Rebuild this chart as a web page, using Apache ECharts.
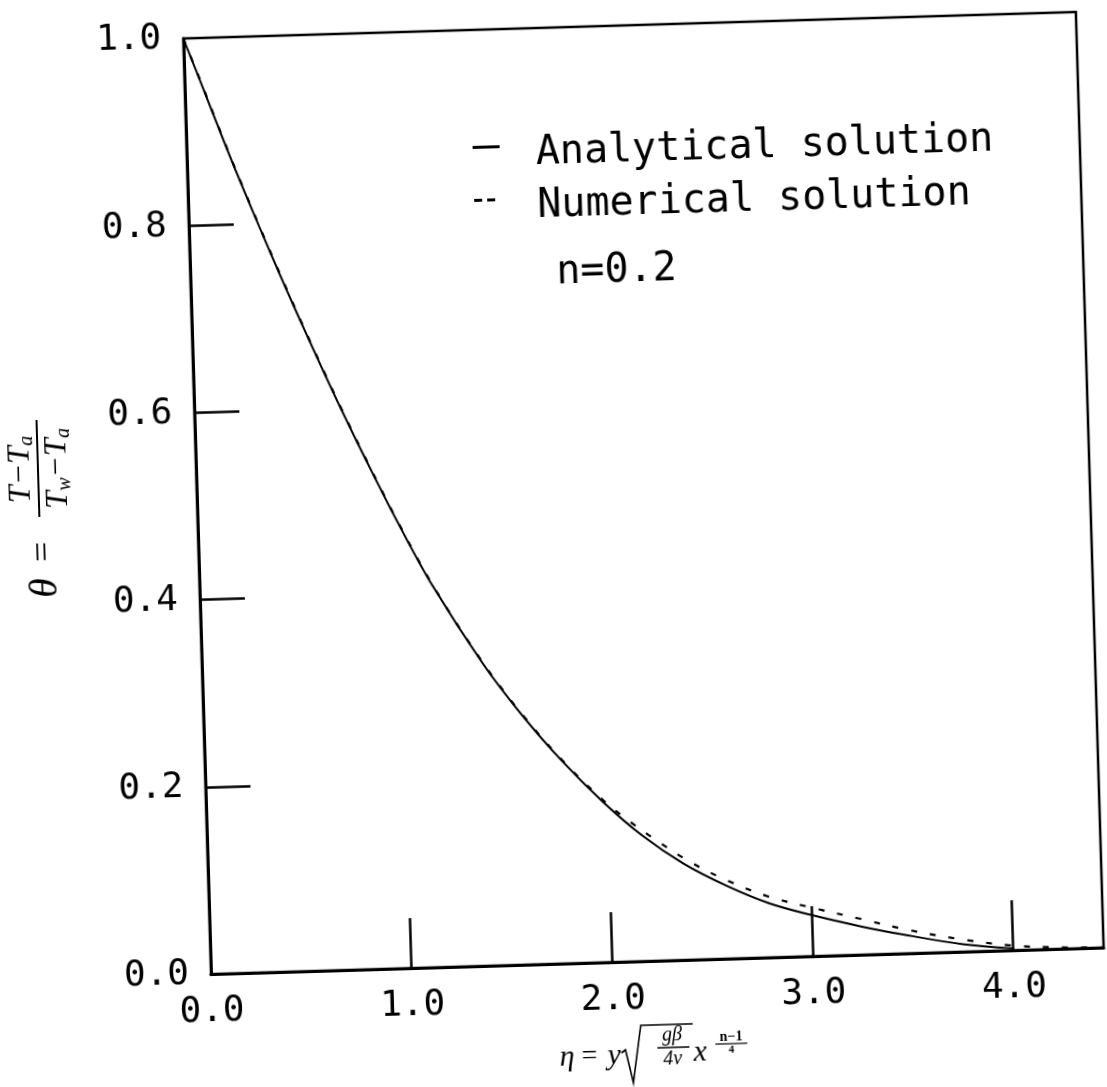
<!DOCTYPE html>
<html><head><meta charset="utf-8">
<script src="https://cdn.jsdelivr.net/npm/echarts@6/dist/echarts.min.js"></script>
<style>
html,body{margin:0;padding:0;background:#fff;overflow:hidden;}
#chart{width:1107px;height:1087px;transform-origin:645px 495px;transform:rotate(-1.7deg);}
</style></head><body><div id="chart"></div>
<script>
// Values
const etaAnalytical   = [0, 0.08, 0.14, 0.23, 0.35, 0.48, 0.60, 0.73, 0.85, 1.00, 1.16, 1.40, 1.59, 1.79, 1.98, 2.17, 2.37, 2.59, 2.79, 3.00, 3.25, 3.46, 3.75, 4.00];
const thetaAnalytical = [1.000, 0.953, 0.917, 0.864, 0.797, 0.727, 0.665, 0.600, 0.543, 0.475, 0.408, 0.323, 0.266, 0.214, 0.171, 0.134, 0.103, 0.077, 0.058, 0.044, 0.030, 0.020, 0.008, 0.002];
const etaNumerical    = [0, 0.08, 0.14, 0.23, 0.35, 0.48, 0.60, 0.73, 0.85, 1.00, 1.16, 1.40, 1.59, 1.79, 1.98, 2.10, 2.25, 2.40, 2.59, 2.79, 3.00, 3.25, 3.46, 3.75, 4.00, 4.20, 4.45];
const thetaNumerical  = [1.000, 0.954, 0.918, 0.865, 0.798, 0.728, 0.666, 0.601, 0.544, 0.476, 0.409, 0.324, 0.267, 0.215, 0.173, 0.151, 0.127, 0.105, 0.083, 0.065, 0.052, 0.038, 0.026, 0.013, 0.005, 0.002, 0.000];
const xLabelValues = [0, 1, 2, 3, 4];
const xTickValues  = [1, 2, 3, 4];
const yTickValues  = [0.2, 0.4, 0.6, 0.8];
const seriesNames  = ['Analytical solution', 'Numerical solution'];
const noteText = 'n=0.2';

const zip = (a, b) => a.map((v, i) => [v, b[i]]);
const MONO = '"DejaVu Sans Mono", "Liberation Mono", monospace';
const SERIF = '"Liberation Serif", "DejaVu Serif", serif';

const chart = echarts.init(document.getElementById('chart'), null, {renderer: 'canvas'});
chart.setOption({
  animation: false,
  backgroundColor: '#fff',
  grid: {left: 197, top: 25, width: 893, height: 936, show: true, borderColor: '#000', borderWidth: 2.5, backgroundColor: 'transparent'},
  xAxis: {
    type: 'value', min: 0, max: 4.45, interval: 1,
    axisLine: {onZero: false, lineStyle: {color: '#000', width: 3}},
    axisTick: {inside: true, length: 50, customValues: xTickValues, lineStyle: {color: '#000', width: 2.5}},
    axisLabel: {customValues: xLabelValues, formatter: v => v.toFixed(1), fontFamily: MONO, fontSize: 36, color: '#000', margin: 20},
    splitLine: {show: false}
  },
  yAxis: {
    type: 'value', min: 0, max: 1, interval: 0.2,
    axisLine: {show: true, onZero: false, lineStyle: {color: '#000', width: 3}},
    axisTick: {show: true, inside: true, length: 45, customValues: yTickValues, lineStyle: {color: '#000', width: 2.5}},
    axisLabel: {formatter: v => v.toFixed(1), fontFamily: MONO, fontSize: 36, color: '#000', margin: 22},
    splitLine: {show: false}
  },
  legend: {
    orient: 'vertical', left: 478, top: 126, itemWidth: 27, itemHeight: 20, itemGap: 13,
    selectedMode: false,
    data: [
      {name: seriesNames[0], icon: 'path://M0,0h27v3h-27z M0,19.99h27v0.01h-27z'},
      {name: seriesNames[1], icon: 'path://M0,0h8v3h-8z M13,0h8v3h-8z M0,19.99h27v0.01h-27z'}
    ],
    textStyle: {fontFamily: MONO, fontSize: 40, lineHeight: 40, color: '#000', padding: [0, 0, 0, 31]}
  },
  series: [
    {name: seriesNames[1], type: 'line', data: zip(etaNumerical, thetaNumerical), showSymbol: false, symbol: 'none',
     smooth: 0.35,
     itemStyle: {color: '#000'}, lineStyle: {color: '#000', width: 2.2, type: [6, 13]}, z: 2},
    {name: seriesNames[0], type: 'line', data: zip(etaAnalytical, thetaAnalytical), showSymbol: false, symbol: 'none',
     smooth: 0.35,
     itemStyle: {color: '#000'}, lineStyle: {color: '#000', width: 2}, z: 3}
  ],
  graphic: [
    {type: 'text', x: 563, y: 271, style: {text: noteText, fontFamily: MONO, fontSize: 40, fill: '#000', align: 'left', verticalAlign: 'middle'}},
    {type: 'group', x: 39, y: 582, rotation: Math.PI / 2, children: [
      {type: 'text', x: 2, y: 4, style: {text: 'θ', font: 'italic 40px ' + SERIF, fill: '#000', align: 'left', verticalAlign: 'middle'}},
      {type: 'text', x: 38, y: 4, style: {text: '=', font: '36px ' + SERIF, fill: '#000', align: 'left', verticalAlign: 'middle'}},
      {type: 'line', shape: {x1: 83, y1: 0, x2: 180, y2: 0}, style: {stroke: '#000', lineWidth: 2}},
      {type: 'text', x: 131, y: -17, style: {text: '{i|T−T}{s|a}', align: 'center', verticalAlign: 'middle', fill: '#000',
        rich: {i: {font: 'italic 32px ' + SERIF, lineHeight: 34}, s: {font: 'italic 20px ' + SERIF, verticalAlign: 'bottom', lineHeight: 34}}}},
      {type: 'text', x: 131, y: 20, style: {text: '{i|T}{s|w}{i|−T}{s|a}', align: 'center', verticalAlign: 'middle', fill: '#000',
        rich: {i: {font: 'italic 32px ' + SERIF, lineHeight: 34}, s: {font: 'italic 20px ' + SERIF, verticalAlign: 'bottom', lineHeight: 34}}}}
    ]},
    {type: 'group', x: 543, y: 1055, children: [
      {type: 'text', x: 0, y: 0, style: {text: 'η', font: 'italic 30px ' + SERIF, fill: '#000', align: 'left', verticalAlign: 'middle'}},
      {type: 'text', x: 22, y: 0, style: {text: '=', font: '28px ' + SERIF, fill: '#000', align: 'left', verticalAlign: 'middle'}},
      {type: 'text', x: 48, y: 0, style: {text: 'y', font: 'italic 30px ' + SERIF, fill: '#000', align: 'left', verticalAlign: 'middle'}},
      {type: 'polyline', shape: {points: [[62, -3], [66, -6], [73, 27], [82, -30], [134, -30]]}, style: {stroke: '#000', lineWidth: 1.6, fill: null}},
      {type: 'text', x: 113, y: -19, style: {text: 'gβ', font: 'italic 20px ' + SERIF, fill: '#000', align: 'center', verticalAlign: 'middle'}},
      {type: 'line', shape: {x1: 98, y1: -7, x2: 130, y2: -7}, style: {stroke: '#000', lineWidth: 1.5}},
      {type: 'text', x: 113, y: 5, style: {text: '4ν', font: 'italic 20px ' + SERIF, fill: '#000', align: 'center', verticalAlign: 'middle'}},
      {type: 'text', x: 134, y: -1, style: {text: 'x', font: 'italic 30px ' + SERIF, fill: '#000', align: 'left', verticalAlign: 'middle'}},
      {type: 'text', x: 172, y: -16, style: {text: 'n−1', font: 'bold 14px ' + SERIF, fill: '#000', align: 'center', verticalAlign: 'middle'}},
      {type: 'line', shape: {x1: 156, y1: -9, x2: 188, y2: -9}, style: {stroke: '#000', lineWidth: 1.2}},
      {type: 'text', x: 172, y: -3, style: {text: '4', font: 'bold 11px ' + SERIF, fill: '#000', align: 'center', verticalAlign: 'middle'}}
    ]}
  ]
});
</script></body></html>
